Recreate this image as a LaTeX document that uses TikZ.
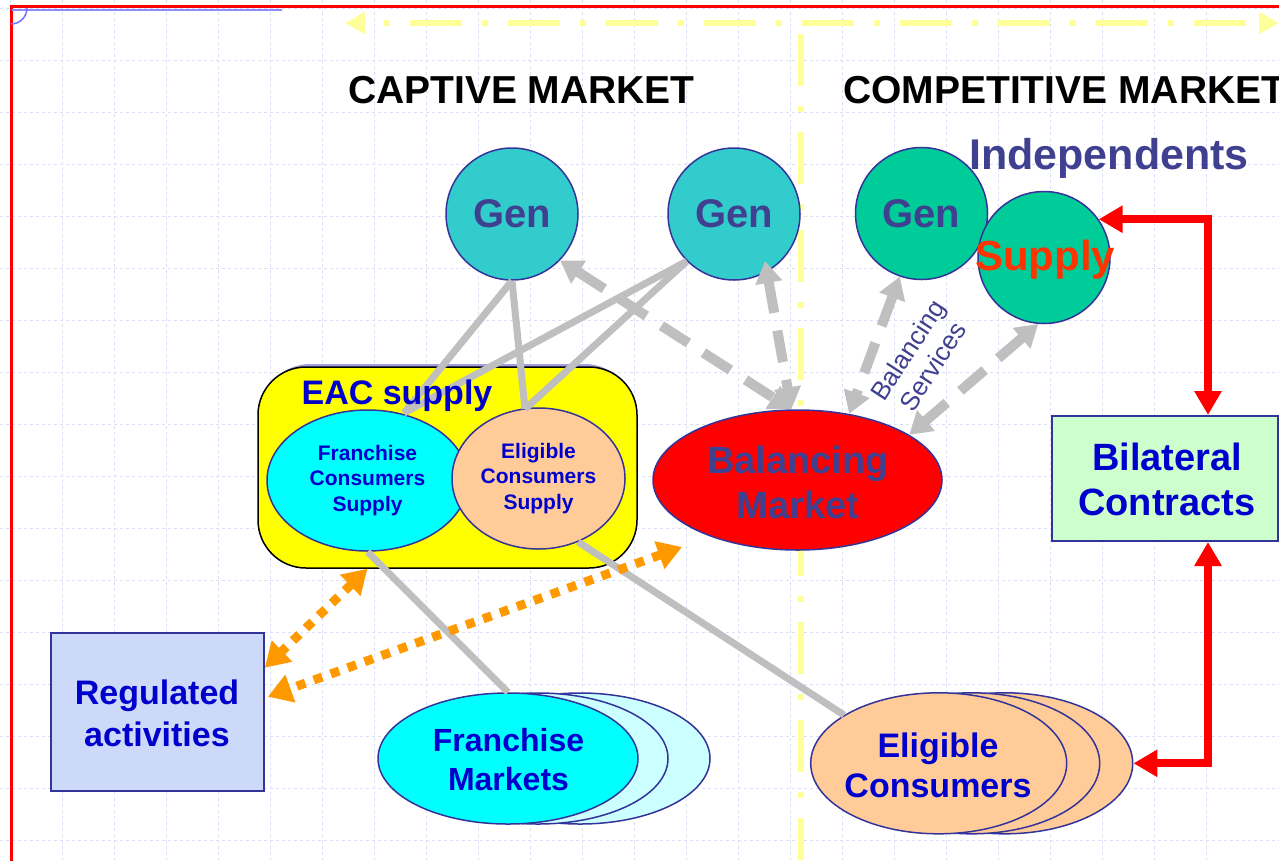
\documentclass[tikz,border=0pt]{standalone}
\usepackage{fontspec}
\setmainfont{Liberation Sans}
\usetikzlibrary{arrows.meta,shapes.geometric,calc}
\definecolor{gengreen}{HTML}{00CC99}
\definecolor{genteal}{HTML}{33CCCC}
\definecolor{outl}{HTML}{333399}
\definecolor{slate}{HTML}{404090}
\definecolor{txtblue}{HTML}{0000CC}
\definecolor{peach}{HTML}{FFCC99}
\definecolor{cyanc}{HTML}{00FFFF}
\definecolor{yellowc}{HTML}{FFFF00}
\definecolor{redc}{HTML}{FF0000}
\definecolor{lcyan}{HTML}{CCFFFF}
\definecolor{lgreen}{HTML}{CCFFCC}
\definecolor{lblue}{HTML}{CCD9F8}
\definecolor{gridc}{RGB}{218,222,247}
\definecolor{grayc}{HTML}{BFBFBF}
\definecolor{orng}{HTML}{FF9900}
\definecolor{yel}{HTML}{FFFF99}
\definecolor{supred}{HTML}{FF3300}
\definecolor{lav}{RGB}{160,160,225}
\begin{document}
\begin{tikzpicture}[x=1pt,y=-1pt,
  circ/.style={circle,draw=outl,line width=1.5pt,minimum size=132pt,inner sep=0pt},
  gtxt/.style={text=slate,font=\fontsize{40}{44}\selectfont\bfseries,inner sep=0pt},
  ell/.style={ellipse,draw=outl,line width=1.5pt,inner sep=0pt},
  boxst/.style={rectangle,draw=outl,line width=2pt,inner sep=0pt},
  btxt/.style={text=txtblue,align=center,inner sep=0pt},
  title/.style={text=black,font=\fontsize{39}{44}\selectfont\bfseries,inner sep=0pt},
  gridline/.style={draw=gridc,line width=0.8pt,dash pattern=on 3pt off 3pt},
  gline/.style={draw=grayc,line width=7pt},
  garrow/.style={draw=grayc,line width=10pt,dash pattern=on 32pt off 18pt,>={Triangle[length=22pt,width=26pt]},<->},
  oarrow/.style={draw=orng,line width=9pt,dash pattern=on 9pt off 9pt,>={Triangle[length=24pt,width=28pt]},<->},
  rarrow/.style={draw=redc,line width=8pt,>={Triangle[length=24pt,width=26pt]},<->},
  ydash/.style={draw=yel,line width=6.5pt,dash pattern=on 52pt off 20pt on 6pt off 20pt}
]
\useasboundingbox (0,0) rectangle (1279,860);
\clip (0,0) rectangle (1279,860);
\fill[white] (0,0) rectangle (1279,860);
% grid
\foreach \k in {0,...,23} \draw[gridline] ({10.7+52*\k},0) -- ({10.7+52*\k},860);
\foreach \k in {0,...,16} \draw[gridline] (0,{8.7+52*\k}) -- (1279,{8.7+52*\k});
% frame
\draw[redc,line width=3pt] (11,6) rectangle (1300,880);
\draw[blue!45,line width=2pt] (12,9.5) -- (282,9.5);
\draw[blue!55,line width=1.5pt] (27,8) arc[start angle=0,end angle=90,radius=16];
% yellow dash-dot separators
\draw[ydash,dash phase=52pt,>={Triangle[length=20pt,width=21pt]},<->] (345,23) -- (1279,23);
\draw[ydash] (801,34) -- (801,860);
% titles
\node[title] (tcap) at (521.5,90) {CAPTIVE MARKET};
\node[title,anchor=west] (tcomp) at (843,90) {COMPETITIVE MARKET};
\node[text=slate,font=\fontsize{43}{48}\selectfont\bfseries,inner sep=0pt] (indep) at (1109,158) {Independents};
% EAC box
\fill[lav,rounded corners=48pt] (262,364) rectangle (633,560);
\node[rectangle,rounded corners=48pt,draw=black,line width=1.5pt,fill=yellowc,minimum width=379pt,minimum height=201pt,inner sep=0pt] (eac) at (447.5,467.5) {};
% generation circles
\node[circ,fill=genteal] (g1) at (512,214) {};
\node[circ,fill=genteal] (g2) at (734,214) {};
\node[circ,fill=gengreen] (g3) at (921.5,213.5) {};
\node[circ,fill=gengreen] (sup) at (1044,257.5) {};
\node[gtxt] at (g1) {Gen};
\node[gtxt] at (g2) {Gen};
\node[gtxt] at (g3) {Gen};
\node[text=supred,font=\fontsize{42}{46}\selectfont\bfseries,inner sep=0pt] (suptxt) at (1045,260) {Supply};
% supply ellipses in EAC
\node[ell,fill=cyanc,minimum width=201pt,minimum height=141pt] (fcs) at (367.5,480.5) {};
\node[ell,fill=peach,minimum width=173pt,minimum height=141pt] (ecs) at (538.5,478.5) {};
\coordinate (a1) at (404,413);
\coordinate (b1) at (525,409);
% gray solid links
\draw[gline] (g1.south) -- (a1);
\draw[gline] (g1.south) -- (b1);
\draw[gline] (g2.225) -- (a1);
\draw[gline] (g2.225) -- (b1);
\node[btxt,font=\fontsize{34}{40}\selectfont\bfseries] (eactxt) at (397,396) {EAC supply};
\node[btxt,font=\fontsize{21}{25.5}\selectfont\bfseries] at (fcs) {Franchise\\Consumers\\Supply};
\node[btxt,font=\fontsize{21}{25.5}\selectfont\bfseries] at (ecs) {Eligible\\Consumers\\Supply};
% balancing market
\node[ell,fill=redc,minimum width=289pt,minimum height=140pt] (bm) at (797.5,480) {};
\node[text=slate,align=center,inner sep=0pt,font=\fontsize{38}{45}\selectfont\bfseries] at (798,482) {Balancing\\Market};
% bilateral contracts
\node[boxst,fill=lgreen,minimum width=226pt,minimum height=125pt] (bil) at (1165,478.5) {};
\node[btxt,font=\fontsize{38}{45}\selectfont\bfseries] at (1167,479.5) {Bilateral\\Contracts};
% regulated activities
\node[boxst,fill=lblue,minimum width=213pt,minimum height=158pt] (reg) at (157.3,711.7) {};
\node[btxt,font=\fontsize{34}{42}\selectfont\bfseries] at (157,713) {Regulated\\activities};
% franchise markets
\node[ell,fill=lcyan,minimum width=260pt,minimum height=131pt] (fm3) at (580,758.5) {};
\node[ell,fill=lcyan,minimum width=260pt,minimum height=131pt] (fm2) at (538,758.5) {};
\node[ell,fill=cyanc,minimum width=260pt,minimum height=131pt] (fm1) at (508,758.5) {};
\node[btxt,font=\fontsize{32}{39}\selectfont\bfseries] at (508.5,760) {Franchise\\Markets};
% eligible consumers
\node[ell,fill=peach,minimum width=256pt,minimum height=141pt] (ec3) at (1004.7,763.3) {};
\node[ell,fill=peach,minimum width=256pt,minimum height=141pt] (ec2) at (971.7,763.3) {};
\node[ell,fill=peach,minimum width=256pt,minimum height=141pt] (ec1) at (938.7,763.3) {};
\node[btxt,font=\fontsize{34}{40}\selectfont\bfseries] at (938,765) {Eligible\\Consumers};
% gray solid links down
\draw[gline] (fcs.south) -- (fm1.north);
\draw[gline] (ecs.-58) -- (ec1.153);
% gray dashed arrows
\coordinate (t2) at (765,261);
\draw[garrow] (g1.-44) -- (bm.95);
\draw[garrow] (t2) -- (bm.95);
\draw[garrow] (g3.251) -- (bm.52);
\draw[garrow] (sup.265) -- (bm.22);
\node[text=slate,align=center,inner sep=0pt,font=\fontsize{26}{30}\selectfont,rotate=57] (bs) at (920,358) {Balancing\\Services};
% orange dotted arrows
\coordinate (o1) at ($(reg.east)+(0,-44)$);
\coordinate (o2) at ($(reg.east)+(3,-15)$);
\coordinate (o3) at (682,547);
\draw[oarrow] (fcs |- eac.south) -- (o1);
\draw[oarrow] (o3) -- (o2);
% red arrows
\coordinate (rx) at (1208,0);
\draw[rarrow] (bil.north -| rx) |- (sup.35);
\draw[rarrow] (bil.south -| rx) |- (ec3.east);
\end{tikzpicture}
\end{document}
